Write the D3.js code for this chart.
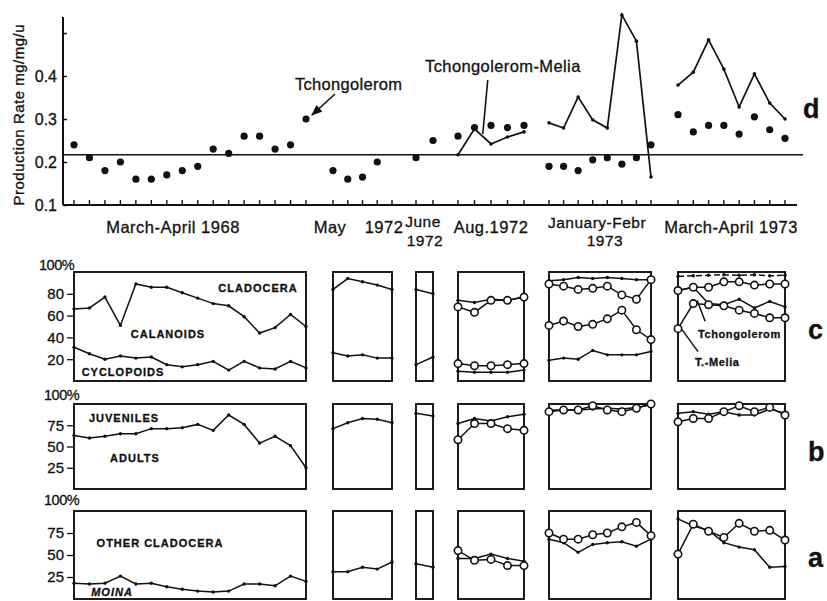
<!DOCTYPE html>
<html>
<head>
<meta charset="utf-8">
<script src="https://cdn.jsdelivr.net/npm/d3@7"></script>
<style>
  body { margin: 0; background: #fff; }
  text { font-family: "Liberation Sans", Arial, Helvetica, sans-serif; fill: #111;
         stroke: #111; stroke-width: 0.3px; }
</style>
</head>
<body>
<svg id="chart" width="827" height="601"></svg>
<script>
// ---- Sampling periods -------------------------------------------------------
const periodNames  = ["March-April 1968", "May 1972", "June 1972", "Aug. 1972", "January-Febr 1973", "March-April 1973"];
const sampleCounts = [16, 5, 2, 5, 8, 8];

// ---- d: production rate (mg/mg/u) -----------------------------------------
const rateTchongolerom = [
  [0.24, 0.21, 0.18, 0.20, 0.16, 0.16, 0.17, 0.18, 0.19, 0.23, 0.22, 0.26, 0.26, 0.23, 0.24, 0.30],
  [0.18, 0.16, 0.165, 0.20, null],
  [0.21, 0.25],
  [0.26, 0.28, 0.285, 0.28, 0.285],
  [0.19, 0.19, 0.18, 0.205, 0.21, 0.195, 0.21, 0.24],
  [0.31, 0.27, 0.285, 0.285, 0.265, 0.305, 0.275, 0.255]
];
const rateMelia = [
  null, null, null,
  [0.217, 0.277, 0.242, 0.258, 0.270],
  [0.291, 0.279, 0.351, 0.298, 0.279, 0.542, 0.481, 0.165],
  [0.379, 0.409, 0.484, 0.416, 0.328, 0.405, 0.337, 0.300]
];
const meanRate = 0.217;
const rateTicks = [0.1, 0.2, 0.3, 0.4, 0.5];
const rateTickLabels = ["0.1", "0.2", "0.3", "0.4", ""];

// ---- c: copepod / cladocera composition (cumulative %) ---------------------
const calanoidTopTchongolerom = [
  [66, 67, 77, 51, 89, 86, 86, 81, 76, 71, 69, 59, 44, 49, 61, 50],
  [84, 94, 91, 88, 84],
  [84, 80],
  [74, 72, 75, 74, 77],
  [92, 93, 95, 94, 95, 94, 93, 93],
  [96, 96.5, 97, 97.5, 97, 97.5, 96.5, 97]
];
const calanoidTopMelia = [
  null, null, null,
  [68, 63, 74, 74, 77],
  [89, 87, 84, 85, 87, 79, 75, 93],
  [83, 86, 86, 91, 91, 88, 89, 89]
];
const cyclopoidTopTchongolerom = [
  [31, 25, 20, 23, 21, 22, 15, 13, 15, 18, 10, 18, 12, 11, 18, 12],
  [26, 23, 24, 21, 21],
  [15, 22],
  [9, 8, 8, 8, 10],
  [19, 21, 20, 28, 24, 24, 24, 27],
  [83, 86, 71, 70, 75, 67, 73, 68]
];
const cyclopoidTopMelia = [
  null, null, null,
  [16, 14, 14, 15, 16],
  [51, 55, 50, 52, 57, 65, 47, 38],
  [48, 71, 70, 69, 65, 62, 58, 58]
];
const compositionTicks = [20, 40, 60, 80];

// ---- b: adults / juveniles (cumulative %) ---------------------------------
const adultsTchongolerom = [
  [63, 60, 62, 65, 65, 71, 71, 72, 76, 69, 87, 76, 54, 62, 51, 25],
  [71, 78, 83, 82, 78],
  [89, 86],
  [77, 83, 80, 85, 88],
  [93, 93, 93, 94, 95, 94, 96, 99],
  [89, 91, 88, 91, 87, 87, 94, 89]
];
const adultsMelia = [
  null, null, null,
  [58, 77, 77, 71, 69],
  [91, 93, 93, 98, 93, 91, 95, 100],
  [79, 83, 83, 91, 98, 91, 96, 87]
];

// ---- a: Moina / other cladocera (cumulative %) ----------------------------
const moinaTchongolerom = [
  [18, 17, 18, 26, 17, 18, 14, 11, 9, 8, 9, 17, 17, 15, 26, 20],
  [31, 31, 36, 34, 42],
  [40, 36],
  [46, 46, 51, 46, 43],
  [68, 64, 53, 62, 64, 65, 60, 68],
  [91, 83, 78, 64, 59, 56, 36, 37]
];
const moinaMelia = [
  null, null, null,
  [55, 44, 45, 38, 38],
  [75, 68, 68, 73, 75, 82, 87, 72],
  [51, 85, 77, 70, 86, 77, 78, 67]
];
const shareTicks = [25, 50, 75];

// ---- Layout -----------------------------------------------------------------
const svg = d3.select("#chart");
const ink = "#111";
const groupSpans = [[74, 306], [333, 392], [416, 433], [458, 524], [549, 651], [678, 785]];
const xScales = groupSpans.map((span, i) => d3.scaleLinear().domain([0, sampleCounts[i] - 1]).range(span));

const pts = (values, gi, y) => values
  .map((v, i) => v == null ? null : [xScales[gi](i), y(v), i])
  .filter(d => d);

const line = d3.line().x(d => d[0]).y(d => d[1]);

// ============================ Panel d =======================================
const yRate = d3.scaleLinear().domain([0.1, 0.5]).range([205, 33]);
const axisLeftX = 63, axisRightX = 797;
const gD = svg.append("g");

// y axis
gD.append("line").attr("x1", axisLeftX).attr("x2", axisLeftX)
  .attr("y1", yRate(0.537)).attr("y2", yRate(0.1))
  .attr("stroke", ink).attr("stroke-width", 2);
gD.append("g").attr("transform", `translate(${axisLeftX},0)`)
  .call(d3.axisLeft(yRate).tickValues(rateTicks).tickSizeInner(-4).tickSizeOuter(0)
        .tickPadding(6).tickFormat((d, i) => rateTickLabels[i]))
  .call(g => g.select(".domain").remove())
  .call(g => g.selectAll(".tick line").attr("stroke", ink).attr("stroke-width", 1.5))
  .call(g => g.selectAll(".tick text").attr("font-size", 16)
        .attr("font-family", "'Liberation Sans', Arial, sans-serif").attr("fill", ink));

// x axis with a tick for every sampling date
gD.append("line").attr("x1", axisLeftX).attr("x2", axisRightX)
  .attr("y1", yRate(0.1)).attr("y2", yRate(0.1))
  .attr("stroke", ink).attr("stroke-width", 2);
sampleCounts.forEach((n, gi) => {
  gD.append("g").selectAll("line").data(d3.range(n)).join("line")
    .attr("x1", i => xScales[gi](i)).attr("x2", i => xScales[gi](i))
    .attr("y1", yRate(0.1) - 5).attr("y2", yRate(0.1))
    .attr("stroke", ink).attr("stroke-width", 1.4);
});

// mean production line
gD.append("line").attr("x1", axisLeftX).attr("x2", 803)
  .attr("y1", yRate(meanRate)).attr("y2", yRate(meanRate))
  .attr("stroke", ink).attr("stroke-width", 1.6);

// Tchongolerom-Melia lines
rateMelia.forEach((vals, gi) => {
  if (!vals) return;
  const p = pts(vals, gi, yRate);
  gD.append("path").attr("d", line(p)).attr("fill", "none")
    .attr("stroke", ink).attr("stroke-width", 1.7);
  gD.append("g").selectAll("circle").data(p).join("circle")
    .attr("cx", d => d[0]).attr("cy", d => d[1]).attr("r", 1.8).attr("fill", ink);
});

// Tchongolerom dots
rateTchongolerom.forEach((vals, gi) => {
  gD.append("g").selectAll("circle").data(pts(vals, gi, yRate)).join("circle")
    .attr("cx", d => d[0]).attr("cy", d => d[1]).attr("r", 3.6).attr("fill", ink);
});

// axis title
gD.append("text")
  .attr("transform", `translate(24,${yRate(0.31)}) rotate(-90)`)
  .attr("text-anchor", "middle").attr("font-size", 15).attr("letter-spacing", 0.5)
  .text("Production Rate mg/mg/u");

// period labels
const periodLabels = [
  { t: "March-April 1968", x: 173, y: 233, s: 16.5 },
  { t: "May", x: 330, y: 233, s: 16.5 },
  { t: "1972", x: 384, y: 233, s: 16.5 },
  { t: "June", x: 423, y: 227, s: 15.5 },
  { t: "1972", x: 425, y: 246, s: 15.5 },
  { t: "Aug.1972", x: 491, y: 233, s: 16.5 },
  { t: "January-Febr", x: 597, y: 228, s: 15.5 },
  { t: "1973", x: 605, y: 246, s: 15.5 },
  { t: "March-April 1973", x: 731, y: 233, s: 16.5 }
];
gD.append("g").selectAll("text").data(periodLabels).join("text")
  .attr("x", d => d.x).attr("y", d => d.y).attr("text-anchor", "middle")
  .attr("font-size", d => d.s).attr("letter-spacing", 0.5).text(d => d.t);

// Tchongolerom annotation with arrow
const tcDot = [xScales[0](15), yRate(rateTchongolerom[0][15])];
svg.append("defs").append("marker").attr("id", "arrow")
  .attr("viewBox", "0 0 10 10").attr("refX", 9).attr("refY", 5)
  .attr("markerWidth", 7).attr("markerHeight", 7).attr("orient", "auto")
  .append("path").attr("d", "M0,1 L10,5 L0,9 Z").attr("fill", ink);
gD.append("line")
  .attr("x1", tcDot[0] + 29).attr("y1", tcDot[1] - 25)
  .attr("x2", tcDot[0] + 6).attr("y2", tcDot[1] - 4)
  .attr("stroke", ink).attr("stroke-width", 1.6).attr("marker-end", "url(#arrow)");
gD.append("text").attr("x", 295).attr("y", 90).attr("font-size", 16.5)
  .attr("letter-spacing", 0.3).text("Tchongolerom");

// Tchongolerom-Melia annotation
const tmTip = [xScales[3](1.5), yRate(0.265)];
gD.append("line")
  .attr("x1", tmTip[0] + 5).attr("y1", 80).attr("x2", tmTip[0]).attr("y2", tmTip[1])
  .attr("stroke", ink).attr("stroke-width", 1.6);
gD.append("text").attr("x", 425).attr("y", 72).attr("font-size", 16.5)
  .attr("letter-spacing", 0.4).text("Tchongolerom-Melia");

gD.append("text").attr("x", 803).attr("y", 118).attr("font-size", 27)
  .attr("font-weight", "bold").text("d");

// ====================== Composition panels c, b, a ==========================
const panels = [
  {
    letter: "c", range: [381, 272], ticks: compositionTicks, top: { x: 39, y: 270 }, letterY: 339,
    series: [
      { data: calanoidTopTchongolerom, marker: "dot" },
      { data: cyclopoidTopTchongolerom, marker: "dot" },
      { data: calanoidTopMelia, marker: "circle" },
      { data: cyclopoidTopMelia, marker: "circle" }
    ],
    labels: [
      { t: "CLADOCERA", x: 258, y: 292 },
      { t: "CALANOIDS", x: 168, y: 338 },
      { t: "CYCLOPOIDS", x: 123, y: 376 }
    ]
  },
  {
    letter: "b", range: [489, 404], ticks: shareTicks, top: { x: 44, y: 400 }, letterY: 461,
    series: [
      { data: adultsTchongolerom, marker: "dot" },
      { data: adultsMelia, marker: "circle" }
    ],
    labels: [
      { t: "JUVENILES", x: 124, y: 422 },
      { t: "ADULTS", x: 135, y: 462 }
    ]
  },
  {
    letter: "a", range: [599, 511], ticks: shareTicks, top: { x: 44, y: 505 }, letterY: 567,
    series: [
      { data: moinaTchongolerom, marker: "dot" },
      { data: moinaMelia, marker: "circle" }
    ],
    labels: [
      { t: "OTHER CLADOCERA", x: 160, y: 547 },
      { t: "MOINA", x: 112, y: 596, italic: true }
    ]
  }
];

panels.forEach(panel => {
  const y = d3.scaleLinear().domain([0, 100]).range(panel.range);
  const g = svg.append("g");

  // frames, one per sampling period
  g.append("g").selectAll("rect").data(groupSpans).join("rect")
    .attr("x", d => d[0]).attr("y", y(100))
    .attr("width", d => d[1] - d[0]).attr("height", y(0) - y(100))
    .attr("fill", "none").attr("stroke", ink).attr("stroke-width", 1.9);

  // value axis on the first frame
  g.append("g").attr("transform", `translate(${groupSpans[0][0] - 1},0)`)
    .call(d3.axisLeft(y).tickValues(panel.ticks).tickSizeInner(6).tickSizeOuter(0).tickPadding(3))
    .call(a => a.select(".domain").remove())
    .call(a => a.selectAll(".tick line").attr("stroke", ink).attr("stroke-width", 1.3))
    .call(a => a.selectAll(".tick text").attr("font-size", 15)
          .attr("font-family", "'Liberation Sans', Arial, sans-serif").attr("fill", ink));
  g.append("text").attr("x", panel.top.x).attr("y", panel.top.y)
    .attr("font-size", 14.5).attr("letter-spacing", -0.5).text("100%");

  // series
  panel.series.forEach(s => {
    s.data.forEach((vals, gi) => {
      if (!vals) return;
      const p = pts(vals, gi, y);
      const dashed = panel.letter === "c" && s.data === calanoidTopTchongolerom && gi === 5;
      g.append("path").attr("d", line(p)).attr("fill", "none")
        .attr("stroke", ink).attr("stroke-width", 1.5)
        .attr("stroke-dasharray", dashed ? "6,3" : null);
      const m = g.append("g").selectAll("circle").data(p).join("circle")
        .attr("cx", d => d[0]).attr("cy", d => d[1]);
      if (s.marker === "dot") m.attr("r", 1.7).attr("fill", ink);
      else m.attr("r", 3.7).attr("fill", "#fff").attr("stroke", ink).attr("stroke-width", 1.6);
    });
  });

  // category labels
  g.append("g").selectAll("text").data(panel.labels).join("text")
    .attr("x", d => d.x).attr("y", d => d.y).attr("text-anchor", "middle")
    .attr("font-size", 11).attr("font-weight", "bold").attr("letter-spacing", 1)
    .attr("font-style", d => d.italic ? "italic" : null).text(d => d.t);

  g.append("text").attr("x", 808).attr("y", panel.letterY).attr("font-size", 27)
    .attr("font-weight", "bold").text(panel.letter);
});

// station annotations in panel c
const yC = d3.scaleLinear().domain([0, 100]).range([381, 272]);
const melTip = [xScales[5](0) + 4, yC(cyclopoidTopMelia[5][0]) + 1];
svg.append("line").attr("x1", melTip[0] + 16).attr("y1", melTip[1] + 22)
  .attr("x2", melTip[0]).attr("y2", melTip[1]).attr("stroke", ink).attr("stroke-width", 1.5);
const tchTip = [xScales[5](1.25), yC(74)];
svg.append("line").attr("x1", tchTip[0] + 8).attr("y1", tchTip[1] + 21)
  .attr("x2", tchTip[0]).attr("y2", tchTip[1]).attr("stroke", ink).attr("stroke-width", 1.5);
svg.append("text").attr("x", 698).attr("y", 338).attr("font-size", 11)
  .attr("font-weight", "bold").attr("letter-spacing", 0.6).text("Tchongolerom");
svg.append("text").attr("x", 695).attr("y", 366).attr("font-size", 11)
  .attr("font-weight", "bold").attr("letter-spacing", 0.6).text("T.-Melia");
</script>
</body>
</html>
